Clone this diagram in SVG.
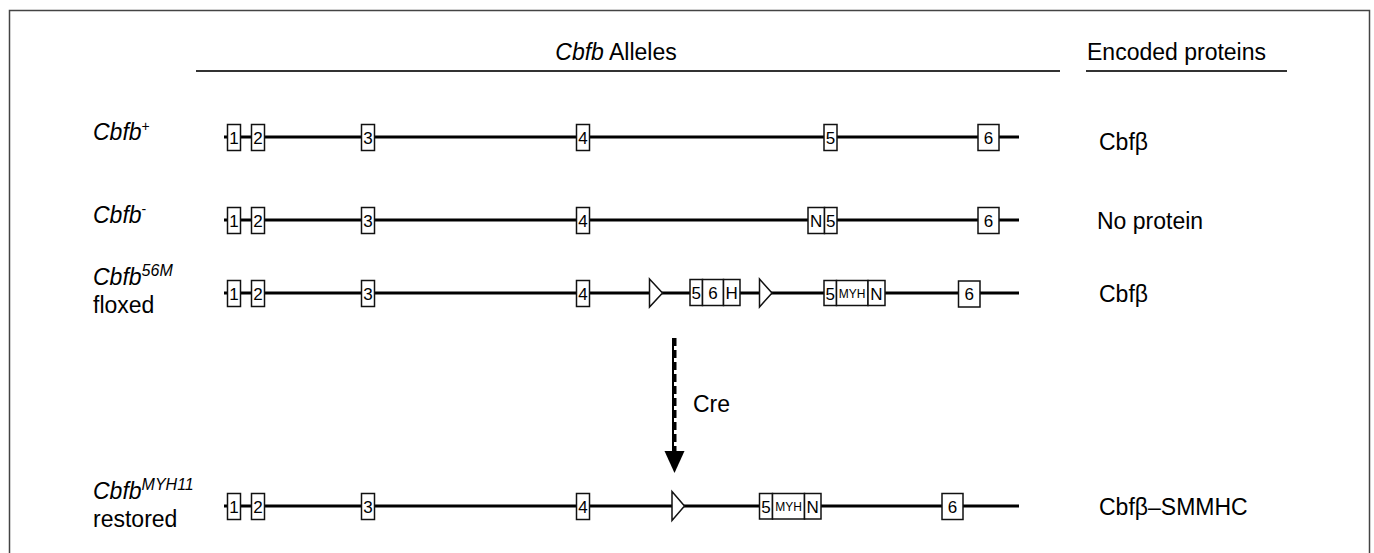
<svg xmlns="http://www.w3.org/2000/svg" width="1374" height="553" viewBox="0 0 1374 553">
<style>
.t{font-family:"Liberation Sans",Arial,Helvetica,sans-serif;fill:#000}
.lbl{font-size:23px}
.it{font-style:italic}
.ex{fill:#fff;stroke:#111;stroke-width:1.5}
.et{font-family:"Liberation Sans",Arial,Helvetica,sans-serif;font-size:17px;text-anchor:middle;fill:#000}
.sm{font-size:12px}
.gene{stroke:#000;stroke-width:3;fill:none}
.lox{fill:#fff;stroke:#111;stroke-width:1.5;stroke-linejoin:miter}
.rule{stroke:#333;stroke-width:2}
</style>
<rect x="9.5" y="10.5" width="1360" height="600" fill="none" stroke="#444" stroke-width="1.5"/>
<g id="header">
<line class="rule" x1="196" y1="71" x2="1060" y2="71"/>
<line class="rule" x1="1086" y1="71" x2="1287" y2="71"/>
<text class="t lbl" x="616" y="60" text-anchor="middle"><tspan class="it">Cbfb</tspan> Alleles</text>
<text class="t lbl" x="1087" y="60">Encoded proteins</text>
</g>
<g id="allele-wt">
<text class="t lbl it" x="93" y="140">Cbfb<tspan font-size="14" dy="-9" font-style="normal">+</tspan></text>
<line class="gene" x1="224" y1="137" x2="1019" y2="137"/>
<rect class="ex" x="227.5" y="124.5" width="13" height="26"/><text class="et" x="234" y="143.5">1</text>
<rect class="ex" x="251.5" y="124.5" width="13" height="26"/><text class="et" x="258" y="143.5">2</text>
<rect class="ex" x="361.5" y="124.5" width="13" height="26"/><text class="et" x="368" y="143.5">3</text>
<rect class="ex" x="576.5" y="124.5" width="13" height="26"/><text class="et" x="583" y="143.5">4</text>
<rect class="ex" x="824" y="124.5" width="13" height="26"/><text class="et" x="830.5" y="143.5">5</text>
<rect class="ex" x="978" y="124.5" width="21" height="26"/><text class="et" x="988.5" y="143.5">6</text>
<text class="t lbl" x="1099" y="150">Cbfβ</text>
</g>
<g id="allele-null">
<text class="t lbl it" x="93" y="223">Cbfb<tspan font-size="14" dy="-9" font-style="normal">-</tspan></text>
<line class="gene" x1="224" y1="220" x2="1019" y2="220"/>
<rect class="ex" x="227.5" y="207.5" width="13" height="26"/><text class="et" x="234" y="226.5">1</text>
<rect class="ex" x="251.5" y="207.5" width="13" height="26"/><text class="et" x="258" y="226.5">2</text>
<rect class="ex" x="361.5" y="207.5" width="13" height="26"/><text class="et" x="368" y="226.5">3</text>
<rect class="ex" x="576.5" y="207.5" width="13" height="26"/><text class="et" x="583" y="226.5">4</text>
<rect class="ex" x="808" y="207.5" width="16.5" height="26"/><text class="et" x="816.2" y="226.5">N</text>
<rect class="ex" x="824.5" y="207.5" width="12.5" height="26"/><text class="et" x="830.8" y="226.5">5</text>
<rect class="ex" x="978" y="207.5" width="21" height="26"/><text class="et" x="988.5" y="226.5">6</text>
<text class="t lbl" x="1097" y="229">No protein</text>
</g>
<g id="allele-floxed">
<text class="t lbl it" x="93" y="285">Cbfb<tspan font-size="16" dy="-9">56M</tspan></text>
<text class="t lbl" x="93" y="313">floxed</text>
<line class="gene" x1="224" y1="293" x2="1019" y2="293"/>
<rect class="ex" x="227.5" y="280.5" width="13" height="26"/><text class="et" x="234" y="299.5">1</text>
<rect class="ex" x="251.5" y="280.5" width="13" height="26"/><text class="et" x="258" y="299.5">2</text>
<rect class="ex" x="361.5" y="280.5" width="13" height="26"/><text class="et" x="368" y="299.5">3</text>
<rect class="ex" x="576.5" y="280.5" width="13" height="26"/><text class="et" x="583" y="299.5">4</text>
<polygon class="lox" points="649.5,279 662.5,293 649.5,307"/>
<rect class="ex" x="690" y="279.5" width="12.5" height="26"/><text class="et" x="696.2" y="298.5">5</text>
<rect class="ex" x="702.5" y="279.5" width="21" height="26"/><text class="et" x="713" y="298.5">6</text>
<rect class="ex" x="723.5" y="279.5" width="16.5" height="26"/><text class="et" x="731.7" y="298.5">H</text>
<polygon class="lox" points="759.5,279 772,293 759.5,307"/>
<rect class="ex" x="824" y="280.5" width="12.5" height="25"/><text class="et" x="830.2" y="299.5">5</text>
<rect class="ex" x="836.5" y="280.5" width="31.5" height="25"/><text class="et sm" x="852.2" y="297.5">MYH</text>
<rect class="ex" x="868" y="280.5" width="17" height="25"/><text class="et" x="876.5" y="299.5">N</text>
<rect class="ex" x="958.5" y="281" width="21.5" height="26"/><text class="et" x="969.2" y="300">6</text>
<text class="t lbl" x="1099" y="302">Cbfβ</text>
</g>
<g id="allele-restored">
<text class="t lbl it" x="93" y="499">Cbfb<tspan font-size="16" dy="-9">MYH11</tspan></text>
<text class="t lbl" x="93" y="527">restored</text>
<line class="gene" x1="224" y1="506" x2="1019" y2="506"/>
<rect class="ex" x="227.5" y="493.5" width="13" height="26"/><text class="et" x="234" y="512.5">1</text>
<rect class="ex" x="251.5" y="493.5" width="13" height="26"/><text class="et" x="258" y="512.5">2</text>
<rect class="ex" x="361.5" y="493.5" width="13" height="26"/><text class="et" x="368" y="512.5">3</text>
<rect class="ex" x="576.5" y="493.5" width="13" height="26"/><text class="et" x="583" y="512.5">4</text>
<polygon class="lox" points="672,491.5 684.5,506 672,520.5"/>
<rect class="ex" x="759.5" y="493.5" width="13" height="25.5"/><text class="et" x="766" y="512.5">5</text>
<rect class="ex" x="772.5" y="493.5" width="32" height="25.5"/><text class="et sm" x="788.5" y="510.5">MYH</text>
<rect class="ex" x="804.5" y="493.5" width="16.5" height="25.5"/><text class="et" x="812.7" y="512.5">N</text>
<rect class="ex" x="942" y="493.5" width="21" height="26"/><text class="et" x="952.5" y="512.5">6</text>
<text class="t lbl" x="1099" y="515">Cbfβ–SMMHC</text>
</g>
<g id="connectors">
<line x1="673" y1="338" x2="673" y2="453" stroke="#000" stroke-width="2"/>
<line x1="675" y1="338" x2="675" y2="453" stroke="#000" stroke-width="3" stroke-dasharray="8 4"/>
<polygon points="664.5,451 684.5,451 674.5,473" fill="#000"/>
<text class="t lbl" x="693" y="412">Cre</text>
</g>
</svg>
